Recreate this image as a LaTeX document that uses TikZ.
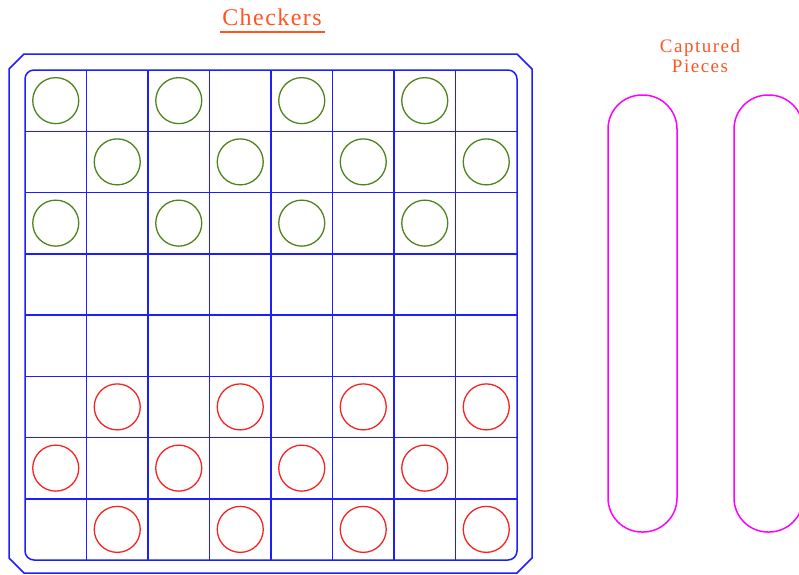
\documentclass[tikz,border=0pt]{standalone}
\usepackage{fontspec}
\setmainfont{Liberation Serif}
\definecolor{boardblue}{RGB}{30,30,250}
\definecolor{greenpc}{RGB}{80,130,30}
\definecolor{redpc}{RGB}{245,35,35}
\definecolor{traymag}{RGB}{255,0,255}
\definecolor{titleorange}{RGB}{255,85,35}
\begin{document}
\begin{tikzpicture}[x=1pt,y=-1pt,
  boardline/.style={draw=boardblue,line width=1.5pt},
  greenpiece/.style={circle,draw=greenpc,line width=1.3pt,minimum size=46pt,inner sep=0pt},
  redpiece/.style={circle,draw=redpc,line width=1.3pt,minimum size=46pt,inner sep=0pt},
  tray/.style={draw=traymag,line width=1.5pt,rounded corners=34pt},
  titletext/.style={text=titleorange,inner sep=0pt}]
\useasboundingbox (0,0) rectangle (799,574);
\begin{scope}
\clip (0,0) rectangle (799,574);
% outer board with chamfered corners
\draw[boardline] (24,54) -- (517,54) -- (532,69) -- (532,558) -- (517,573) -- (24,573) -- (9,558) -- (9,69) -- cycle;
% inner playing area
\draw[boardline,rounded corners=9pt] (25,70) rectangle (517,560);
\foreach \i in {1,...,7}{
  \draw[boardline] ({25+\i*61.5},70) -- ({25+\i*61.5},560);
  \draw[boardline] (25,{70+\i*61.25}) -- (517,{70+\i*61.25});
}
% pieces
\foreach \r/\c in {0/0,0/2,0/4,0/6,1/1,1/3,1/5,1/7,2/0,2/2,2/4,2/6}{
  \node[greenpiece] (g\r\c) at ({25+61.5*(\c+0.5)},{70+61.25*(\r+0.5)}) {};
}
\foreach \r/\c in {5/1,5/3,5/5,5/7,6/0,6/2,6/4,6/6,7/1,7/3,7/5,7/7}{
  \node[redpiece] (r\r\c) at ({25+61.5*(\c+0.5)},{70+61.25*(\r+0.5)}) {};
}
% trays
\draw[tray] (608,95) rectangle (677,532);
\draw[tray] (734,95) rectangle (803,532);
\end{scope}
% titles
\node[titletext,font=\fontsize{24}{24}\selectfont\addfontfeature{LetterSpace=6}] (title) at (272,17) {Checkers};
\draw[titleorange,line width=1.3pt] (220,32) -- (325,32);
\node[titletext,font=\fontsize{19}{20}\selectfont\addfontfeature{LetterSpace=8},align=center] (cap) at (700,56) {Captured\\Pieces};
\end{tikzpicture}
\end{document}
